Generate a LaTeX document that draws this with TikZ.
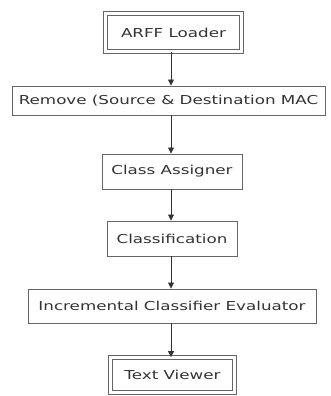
\documentclass[tikz,border=0pt]{standalone}
\usepackage{fontspec}
\setmainfont{DejaVu Sans}[FakeStretch=1.36]
\usetikzlibrary{arrows.meta}
\definecolor{boxline}{HTML}{666666}
\definecolor{txt}{HTML}{333333}
\begin{document}
\begin{tikzpicture}[x=1pt,y=1pt,
  box/.style={draw=boxline, line width=0.9pt, fill=white, inner sep=0pt,
    font=\fontsize{12.3}{14}\selectfont, text=txt},
  dbox/.style={box, double=white, double distance=2.6pt, line width=0.8pt},
  arr/.style={draw=black!80, line width=0.8pt, -{Triangle[length=6pt,width=6pt]}}]
\useasboundingbox (0,0) rectangle (331,-396);
\node[dbox, minimum width=136pt, minimum height=38pt] (a) at (173.5,-32.5) {ARFF Loader};
\node[box, minimum width=313pt, minimum height=29pt] (b) at (168.5,-100.5) {Remove (Source \& Destination MAC};
\node[box, minimum width=140pt, minimum height=35pt] (c) at (172,-171.5) {Class Assigner};
\node[box, minimum width=130pt, minimum height=35pt] (d) at (172,-238.5) {Classification};
\node[box, minimum width=288pt, minimum height=34pt] (e) at (172,-306) {Incremental Classifier Evaluator};
\node[dbox, minimum width=124pt, minimum height=35pt] (f) at (172.5,-375) {Text Viewer};
\coordinate (X) at (171,0);
\draw[arr] (a.south -| X) -- (b.north -| X);
\draw[arr] (b.south -| X) -- (c.north -| X);
\draw[arr] (c.south -| X) -- (d.north -| X);
\draw[arr] (d.south -| X) -- (e.north -| X);
\draw[arr] (e.south -| X) -- (f.north -| X);
\end{tikzpicture}
\end{document}
